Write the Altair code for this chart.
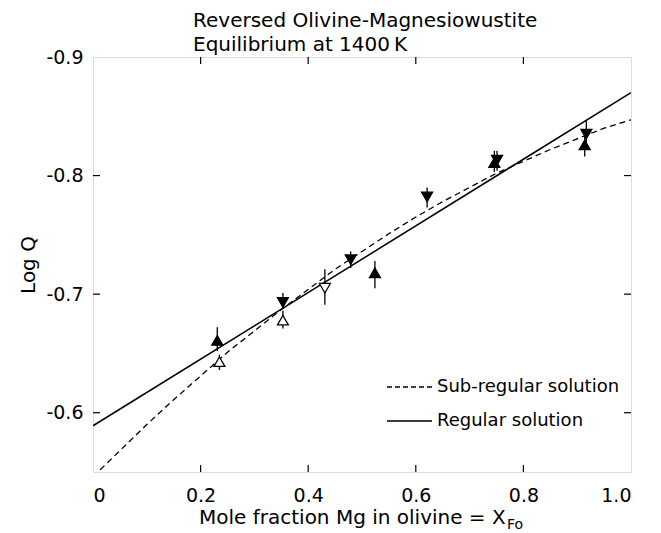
import altair as alt
import pandas as pd

# ---- data ----
pt_x = [0.231, 0.235, 0.353, 0.353, 0.431, 0.479, 0.524, 0.621, 0.746, 0.751, 0.914, 0.917]
pt_y = [-0.661, -0.643, -0.693, -0.678, -0.705, -0.729, -0.718, -0.782, -0.811, -0.813, -0.826, -0.835]
pt_lo = [-0.672, -0.649, -0.701, -0.686, -0.721, -0.736, -0.728, -0.790, -0.821, -0.821, -0.834, -0.846]
pt_hi = [-0.652, -0.636, -0.688, -0.671, -0.691, -0.722, -0.705, -0.773, -0.803, -0.804, -0.816, -0.826]
pt_dir = ["up", "up", "down", "up", "down", "down", "up", "down", "up", "down", "up", "down"]
pt_fill = ["filled", "open", "filled", "open", "open", "filled", "filled", "filled", "filled", "filled", "filled", "filled"]

reg_x = [0.0, 1.0]
reg_y = [-0.589, -0.870]

sub_x = [0.0, 0.05, 0.1, 0.15, 0.2, 0.25, 0.3, 0.35, 0.4, 0.45, 0.5,
         0.55, 0.6, 0.65, 0.7, 0.75, 0.8, 0.85, 0.9, 0.95, 1.0]
sub_y = [-0.546, -0.568, -0.590, -0.611, -0.631, -0.651, -0.669, -0.687, -0.704, -0.721, -0.736,
         -0.751, -0.765, -0.778, -0.790, -0.802, -0.812, -0.822, -0.831, -0.840, -0.847]

x_ticks = [0.0, 0.2, 0.4, 0.6, 0.8, 1.0]
y_ticks = [-0.9, -0.8, -0.7, -0.6]

title_lines = ["Reversed Olivine-Magnesiowustite", "Equilibrium at 1400\u2009K"]
x_title = "Mole fraction Mg in olivine = X"
x_sub = "Fo"
y_title = "Log Q"
leg_labels = ["Sub-regular solution", "Regular solution"]

W, H = 538, 415
FONT = "DejaVu Sans"

pts = pd.DataFrame({"x": pt_x, "y": pt_y, "lo": pt_lo, "hi": pt_hi,
                    "dir": pt_dir, "fill": pt_fill})
reg = pd.DataFrame({"x": reg_x, "y": reg_y})
sub = pd.DataFrame({"x": sub_x, "y": sub_y})

xs = alt.Scale(domain=[0, 1], nice=False, zero=False)
ys = alt.Scale(domain=[-0.9, -0.55], reverse=True, nice=False, zero=False)

xaxis = alt.Axis(values=x_ticks, labelExpr="datum.value == 0 ? '0' : format(datum.value, '.1f')",
                 tickSize=0, domain=False, grid=False, title=None, labelFontSize=19,
                 labelPadding=14, labelColor="black", labelFont=FONT)
yaxis = alt.Axis(values=y_ticks, labelExpr="'-' + format(abs(datum.value), '.1f')",
                 tickSize=0, domain=False, grid=False, title=y_title, labelFontSize=19,
                 labelPadding=10, labelColor="black", labelFont=FONT,
                 titleFontSize=20, titleFontWeight="normal", titleColor="black",
                 titleFont=FONT, titlePadding=7)

base_x = alt.X("x:Q", scale=xs, axis=xaxis)
base_y = alt.Y("y:Q", scale=ys, axis=yaxis)

sub_line = alt.Chart(sub).mark_line(color="black", strokeWidth=1.3, strokeDash=[6, 4], clip=True).encode(
    x=base_x, y=base_y)
reg_line = alt.Chart(reg).mark_line(color="black", strokeWidth=1.5, clip=True).encode(
    x=alt.X("x:Q", scale=xs), y=alt.Y("y:Q", scale=ys))

err = alt.Chart(pts).mark_rule(color="black", strokeWidth=1.3).encode(
    x=alt.X("x:Q", scale=xs), y=alt.Y("lo:Q", scale=ys), y2="hi:Q")

marks = alt.Chart(pts).mark_point(size=120, strokeWidth=1.3, opacity=1).encode(
    x=alt.X("x:Q", scale=xs), y=alt.Y("y:Q", scale=ys),
    shape=alt.Shape("dir:N", scale=alt.Scale(domain=["up", "down"], range=["triangle-up", "triangle-down"]), legend=None),
    fill=alt.Fill("fill:N", scale=alt.Scale(domain=["filled", "open"], range=["black", "white"]), legend=None),
    stroke=alt.value("black"))

xt = pd.DataFrame({"v": x_ticks[1:-1]})
yt = pd.DataFrame({"v": y_ticks[1:]})
tick_b = alt.Chart(xt).mark_rule(color="black", strokeWidth=1.2).encode(
    x=alt.X("v:Q", scale=xs), y=alt.value(H), y2=alt.value(H - 7))
tick_t = alt.Chart(xt).mark_rule(color="black", strokeWidth=1.2).encode(
    x=alt.X("v:Q", scale=xs), y=alt.value(0), y2=alt.value(7))
tick_l = alt.Chart(yt).mark_rule(color="black", strokeWidth=1.2).encode(
    y=alt.Y("v:Q", scale=ys), x=alt.value(0), x2=alt.value(7))
tick_r = alt.Chart(yt).mark_rule(color="black", strokeWidth=1.2).encode(
    y=alt.Y("v:Q", scale=ys), x=alt.value(W), x2=alt.value(W - 7))

# legend
leg_sub = alt.Chart(pd.DataFrame({"a": [0]})).mark_rule(color="black", strokeWidth=1.3, strokeDash=[5, 3]).encode(
    x=alt.value(294), x2=alt.value(339), y=alt.value(330))
leg_reg = alt.Chart(pd.DataFrame({"a": [0]})).mark_rule(color="black", strokeWidth=1.5).encode(
    x=alt.value(294), x2=alt.value(339), y=alt.value(364))
leg_txt = alt.Chart(pd.DataFrame({"t": leg_labels, "yy": [330, 364]})).mark_text(
    align="left", baseline="middle", fontSize=18, font=FONT, color="black").encode(
    text="t:N", x=alt.value(344), y=alt.Y("yy:Q", scale=None))

# title (two left-aligned lines)
ttl = alt.Chart(pd.DataFrame({"t": title_lines, "yy": [-36, -12]})).mark_text(
    align="left", baseline="middle", fontSize=20, font=FONT, color="black").encode(
    text="t:N", x=alt.value(100), y=alt.Y("yy:Q", scale=None))

# x-axis title with subscript
xt_main = alt.Chart(pd.DataFrame({"t": [x_title]})).mark_text(
    align="left", baseline="alphabetic", fontSize=20, font=FONT, color="black").encode(
    text="t:N", x=alt.value(106), y=alt.value(H + 52))
xt_sub = alt.Chart(pd.DataFrame({"t": [x_sub]})).mark_text(
    align="left", baseline="alphabetic", fontSize=14, font=FONT, color="black").encode(
    text="t:N", x=alt.value(414), y=alt.value(H + 57))

chart = alt.layer(
    sub_line, reg_line, err, marks, tick_b, tick_t, tick_l, tick_r,
    leg_sub, leg_reg, leg_txt, ttl, xt_main, xt_sub
).properties(
    width=W, height=H,
    autosize=alt.AutoSizeParams(type="none"),
    padding={"left": 85, "top": 49, "right": 15, "bottom": 60},
).configure_view(
    stroke="black", strokeWidth=1.3
).configure(font=FONT)

chart.save("out.html", embed_options={"renderer": "svg", "actions": False})
